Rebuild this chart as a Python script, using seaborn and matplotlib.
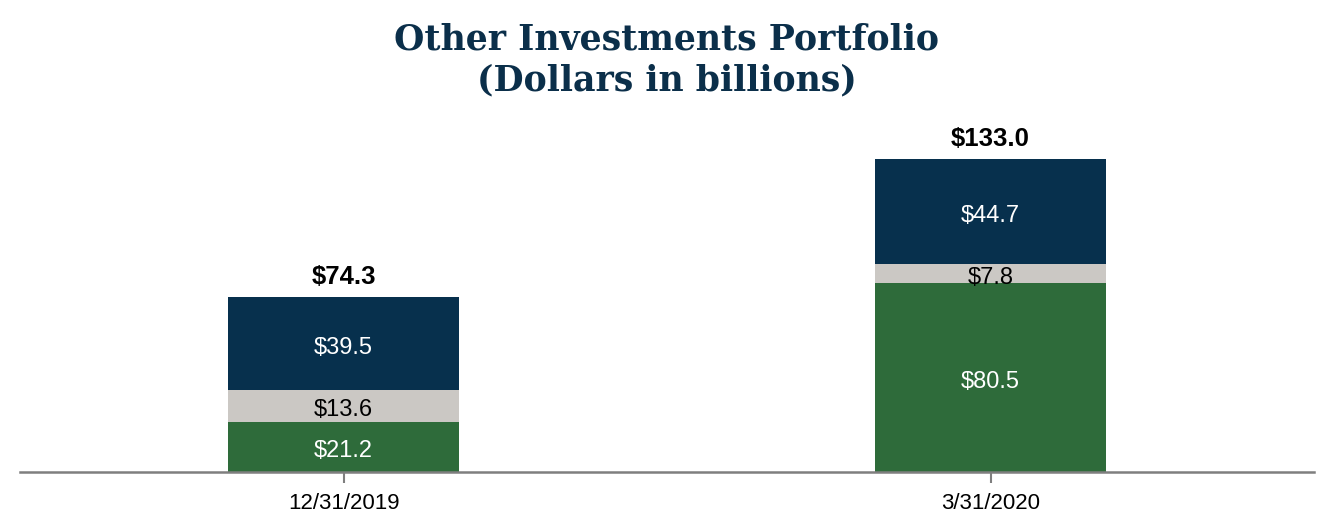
import matplotlib
matplotlib.use("Agg")
import matplotlib.pyplot as plt
import seaborn as sns
import pandas as pd
import numpy as np

categories = ["12/31/2019", "3/31/2020"]
green_vals = [21.2, 80.5]
gray_vals = [13.6, 7.8]
navy_vals = [39.5, 44.7]
totals = [74.3, 133.0]

NAVY = "#07304D"
GRAY = "#CBC8C4"
GREEN = "#2E6B3A"
TITLE = "#0B2F4A"

sns.set_theme(style="white")
plt.rcParams["font.family"] = ["Liberation Sans", "DejaVu Sans"]

fig = plt.figure(figsize=(13.34, 5.32), dpi=100)
ax = fig.add_axes([20/1334, 60/532, 1294/1334, 362/532])

df = pd.DataFrame({"cat": categories, "green": green_vals, "gray": gray_vals, "navy": navy_vals})
df["lvl2"] = df["green"] + df["gray"]
df["lvl3"] = df["lvl2"] + df["navy"]

w = 231/647
sns.barplot(data=df, x="cat", y="lvl3", color=NAVY, width=w, saturation=1, ax=ax, linewidth=0)
sns.barplot(data=df, x="cat", y="lvl2", color=GRAY, width=w, saturation=1, ax=ax, linewidth=0)
sns.barplot(data=df, x="cat", y="green", color=GREEN, width=w, saturation=1, ax=ax, linewidth=0)

def seg_label(x, y, s, color):
    ax.annotate(s, xy=(x, y), xytext=(0, -3), textcoords="offset points",
                ha="center", va="center", color=color, fontsize=17)

for i in range(len(categories)):
    g, gr, n = green_vals[i], gray_vals[i], navy_vals[i]
    seg_label(i, g/2, f"${g:.1f}", "white")
    seg_label(i, g + gr/2, f"${gr:.1f}", "black")
    seg_label(i, g + gr + n/2, f"${n:.1f}", "white")
    ax.annotate(f"${totals[i]:.1f}", xy=(i, g + gr + n), xytext=(0, 14.5), textcoords="offset points",
                ha="center", va="center", fontsize=18.5, fontweight="bold", color="black")

ax.set_xlim(-0.5, 1.5)
ax.set_ylim(0, 362/2.35)
ax.set_xlabel("")
ax.set_ylabel("")
ax.set_yticks([])
for s in ["top", "right", "left"]:
    ax.spines[s].set_visible(False)
ax.spines["bottom"].set_color("#7F7F7F")
ax.spines["bottom"].set_linewidth(1.8)
ax.tick_params(axis="x", bottom=True, length=8, width=1.5, color="#7F7F7F", labelsize=16, pad=7, labelcolor="black")

fig.text(0.5, 1 - 60/532, "Other Investments Portfolio\n(Dollars in billions)", ha="center", va="center",
         fontsize=25, fontweight="bold", color=TITLE, family=["DejaVu Serif"], linespacing=1.27)

fig.savefig("out.png", dpi=100, facecolor="white")
